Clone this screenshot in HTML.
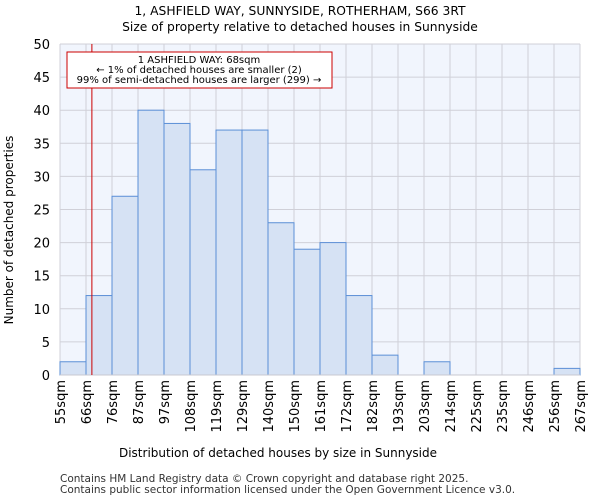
<!DOCTYPE html>
<html><head><meta charset="utf-8"><style>
body{margin:0;background:#fff;font-family:"DejaVu Sans","Liberation Sans",sans-serif}
</style></head><body>
<svg width="600" height="500" xmlns="http://www.w3.org/2000/svg" font-family="DejaVu Sans, Liberation Sans, sans-serif">
<text x="300" y="15" text-anchor="middle" font-size="12.3">1, ASHFIELD WAY, SUNNYSIDE, ROTHERHAM, S66 3RT</text>
<text x="300" y="31" text-anchor="middle" font-size="12.3">Size of property relative to detached houses in Sunnyside</text>
<rect x="60" y="44" width="520" height="331" fill="#f1f5fd"/>
<g id="grid"></g><g id="bars"></g><g id="axes"></g>
<line id="marker" stroke="#cc0000" stroke-width="1"/>
<rect x="67" y="52" width="265" height="36" fill="#fff" stroke="#cc0000"/>
<g font-size="10" text-anchor="middle">
<text x="199" y="63">1 ASHFIELD WAY: 68sqm</text>
<text x="199" y="73">← 1% of detached houses are smaller (2)</text>
<text x="199" y="83">99% of semi-detached houses are larger (299) →</text>
</g>
<text x="278" y="457" text-anchor="middle" font-size="12">Distribution of detached houses by size in Sunnyside</text>
<text transform="translate(13,230) rotate(-90)" text-anchor="middle" font-size="12">Number of detached properties</text>
<text x="60" y="482" font-size="10.5" fill="#333">Contains HM Land Registry data © Crown copyright and database right 2025.</text>
<text x="60" y="493" font-size="10.5" fill="#333">Contains public sector information licensed under the Open Government Licence v3.0.</text>
</svg>
<script>
const binLabels=["55sqm","66sqm","76sqm","87sqm","97sqm","108sqm","119sqm","129sqm","140sqm","150sqm","161sqm","172sqm","182sqm","193sqm","203sqm","214sqm","225sqm","235sqm","246sqm","256sqm","267sqm"];
const counts=[2,12,27,40,38,31,37,37,23,19,20,12,3,0,2,0,0,0,0,1];
const yTicks=[0,5,10,15,20,25,30,35,40,45,50];
const binStart=55, binWidth=10.6, propertySize=68;
const NS="http://www.w3.org/2000/svg";
const X0=60,X1=580,Y0=375,Y1=44;
const bw=(X1-X0)/counts.length;
const xi=i=>X0+i*bw;
const xv=v=>X0+(v-binStart)/binWidth*bw;
const y=v=>Y0-(v/50)*(Y0-Y1);
function mk(t,a,p){const e=document.createElementNS(NS,t);for(const k in a)e.setAttribute(k,a[k]);p.appendChild(e);return e;}
const grid=document.getElementById('grid'),bars=document.getElementById('bars'),axes=document.getElementById('axes');
yTicks.forEach(t=>{
  const l=mk('line',{x1:X0,x2:X1,y1:y(t),y2:y(t),stroke:'#d0d0d8'},grid);
  
  
  const tx=mk('text',{x:X0-10,y:y(t)+5,'text-anchor':'end','font-size':'13'},axes);
  tx.textContent=t;
  
  
});
binLabels.forEach((s,i)=>{
  const l=mk('line',{x1:xi(i),x2:xi(i),y1:Y1,y2:Y0,stroke:'#d0d0d8'},grid);
  
  
  const tx=mk('text',{transform:`translate(${xi(i)+5},380) rotate(-90)`,'text-anchor':'end','font-size':'13'},axes);
  tx.textContent=s;
  
  
});
counts.forEach((c,i)=>{
  if(c<=0)return;
  const r=mk('rect',{x:xi(i),y:y(c),width:bw,height:Y0-y(c),fill:'#d6e2f4',stroke:'#5b8fd6','stroke-width':'1'},bars);
  
  
});
const ax=mk('line',{x1:X0,x2:X1,y1:Y0,y2:Y0,stroke:'#c8c8d0'},axes);


const m=document.getElementById('marker');
m.setAttribute('x1',xv(propertySize));m.setAttribute('x2',xv(propertySize));
m.setAttribute('y1',Y1);m.setAttribute('y2',Y0);
</script>
</body></html>
